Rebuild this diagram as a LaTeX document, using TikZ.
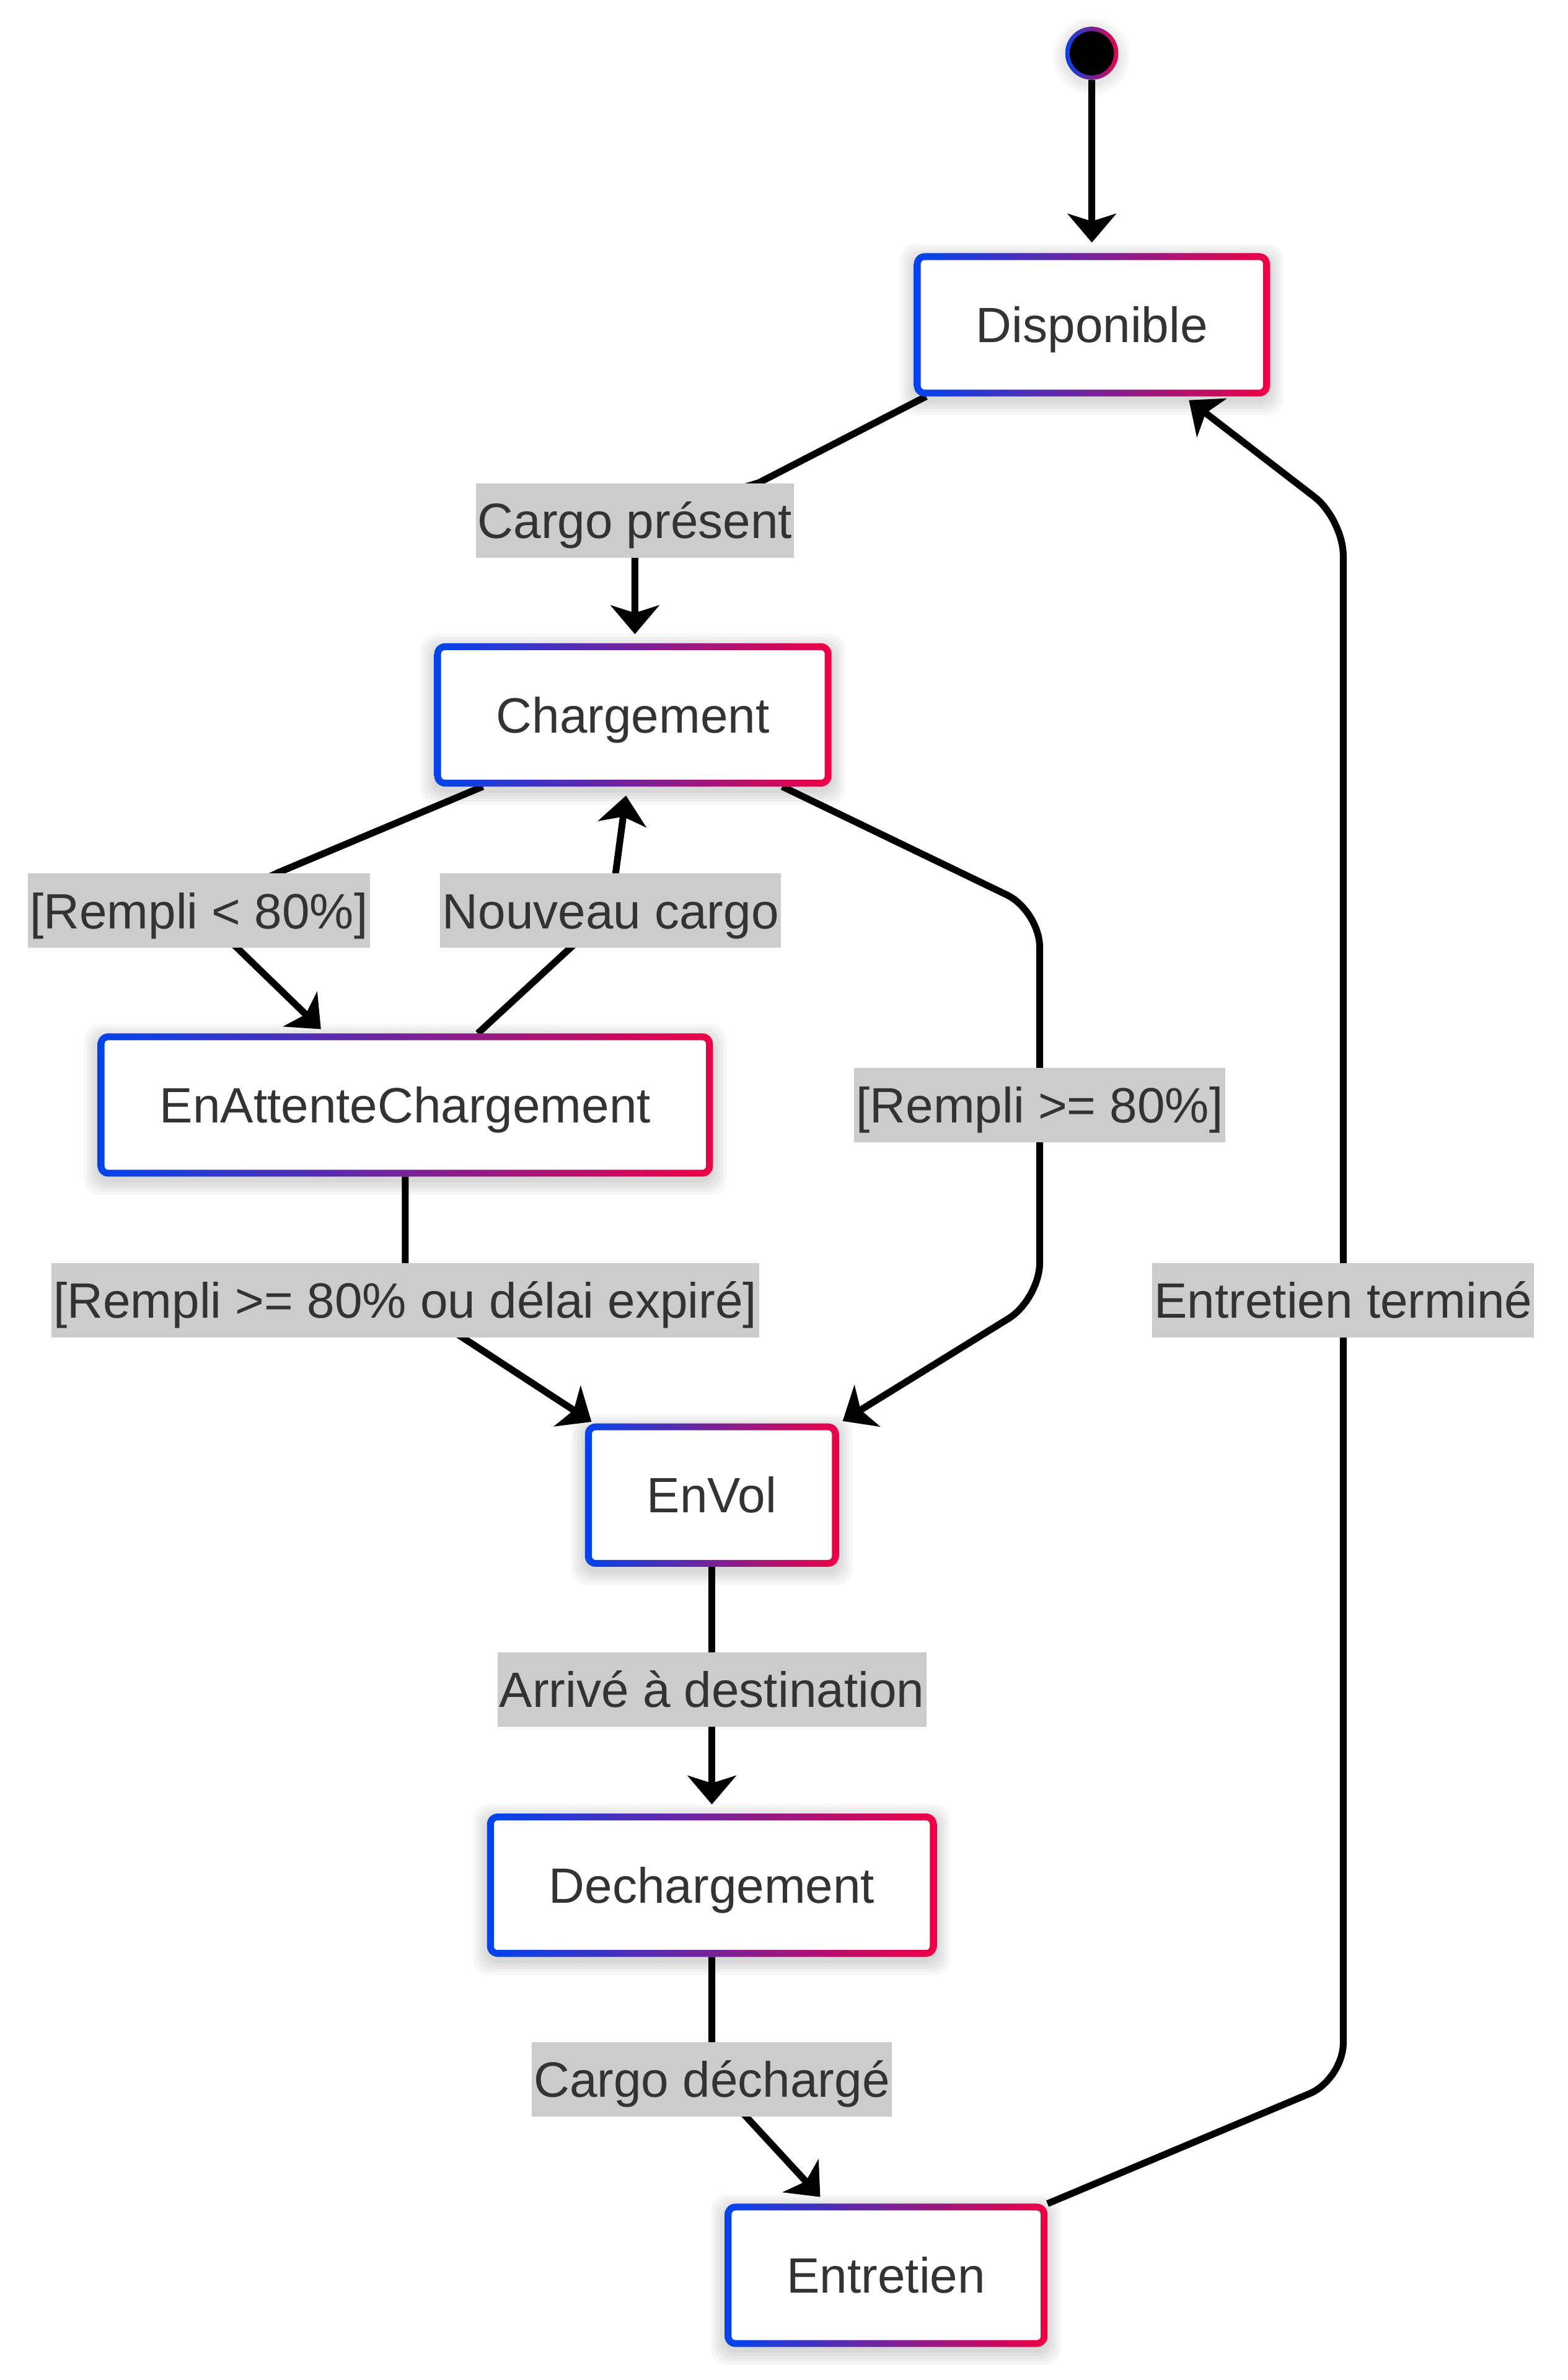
\documentclass[tikz,border=0pt]{standalone}
\usepackage{fontspec}
\setmainfont{Liberation Sans}
\usetikzlibrary{arrows.meta,calc}
\definecolor{gblue}{HTML}{0044EE}
\definecolor{gred}{HTML}{EE0044}
\definecolor{lblgray}{HTML}{CCCCCC}
\definecolor{txtgray}{HTML}{333333}
\pgfdeclarelayer{back}
\pgfdeclarelayer{shadow}
\pgfdeclarelayer{edges}
\pgfsetlayers{back,shadow,edges,main}
\newcommand\gradframe[1]{%
  \begin{pgfonlayer}{shadow}
    \foreach \e in {1,3,5,7,9}
      \fill[black, opacity=0.03, rounded corners=10pt] ($(#1.south west)+(-\e,\e+3)$) rectangle ($(#1.north east)+(\e,-\e+3)$);
  \end{pgfonlayer}
  \shade[left color=gblue, right color=gred, even odd rule]
    [rounded corners=7pt] (#1.south west) rectangle (#1.north east)
    [rounded corners=2.5pt] ($(#1.south west)+(4.5,-4.5)$) rectangle ($(#1.north east)+(-4.5,4.5)$);}
\tikzset{
  statebox/.style={rectangle, rounded corners=7pt, fill=white, text=txtgray,
    minimum height=94pt, inner xsep=40.7pt, inner ysep=0pt,
    text height=23.4pt, text depth=0pt,
    font=\fontsize{32.7}{39}\selectfont},
  elabel/.style={rectangle, fill=lblgray, text=txtgray, inner xsep=1.3pt, inner ysep=0pt,
    minimum height=49pt, text height=23.4pt, text depth=0pt,
    font=\fontsize{32.7}{39}\selectfont},
  conn/.style={line width=4.5pt, draw=black},
  arr/.style={conn, -{Stealth[length=19pt,width=32pt,inset=5pt]}},
}
\begin{document}
\begin{tikzpicture}[x=1pt,y=-1pt]
\useasboundingbox (0,0) rectangle (1033,1568);
\begin{pgfonlayer}{back}
  \fill[white] (0,0) rectangle (1033,1568);
\end{pgfonlayer}

% start state
\node[circle, fill=black, minimum size=34.8pt, inner sep=0pt] (start) at (719.3,35.1) {};
\begin{pgfonlayer}{shadow}
  \foreach \e in {2,4,6,8}
    \fill[black, opacity=0.025] ($(start.center)+(0,2)$) circle ({17.4+\e});
\end{pgfonlayer}
\shade[left color=gblue, right color=gred, even odd rule] (start.center) circle (17.4pt) (start.center) circle (14.6pt);

% states
\node[statebox] (disp) at (719.4,214) {Disponible};
\gradframe{disp}
\node[statebox] (charg) at (417,471) {Chargement};
\gradframe{charg}
\node[statebox] (att) at (267,728) {EnAttenteChargement};
\gradframe{att}
\node[statebox] (envol) at (469,985) {EnVol};
\gradframe{envol}
\node[statebox] (dech) at (469,1242) {Dechargement};
\gradframe{dech}
\node[statebox] (entr) at (583.8,1499) {Entretien};
\gradframe{entr}

% edge labels
\node[elabel] (lbl1) at (418.3,343) {Cargo présent};
\node[elabel] (lbl2) at (131,600) {[Rempli < 80\%]};
\node[elabel] (lbl3) at (402.3,600) {Nouveau cargo};
\node[elabel] (lbl4) at (685,728) {[Rempli >= 80\%]};
\node[elabel] (lbl5) at (267,856.5) {[Rempli >= 80\% ou délai expiré]};
\node[elabel] (lbl6) at (469,1113) {Arrivé à destination};
\node[elabel] (lbl7) at (469,1370) {Cargo déchargé};
\node[elabel] (lbl8) at (885,856.5) {Entretien terminé};

% waypoints
\coordinate (c1) at (500,318);
\coordinate (c2) at (183,575);
\coordinate (c3) at (685,600);
\coordinate (c4) at (685,856);
\coordinate (c5) at (885,1370);
\coordinate (c6) at (885,342);

\begin{pgfonlayer}{edges}
  \draw[arr, shorten >=7pt] (start) -- (disp);
  \draw[arr, shorten >=6pt] ([xshift=8pt]disp.south west) -- (c1) -- (lbl1.center) -- (lbl1.center |- charg.north);
  \draw[arr, shorten >=4pt] ([xshift=32pt]charg.south west) -- (c2) -- (lbl2.center) -- ([xshift=150pt]att.north west);
  \draw[arr, shorten >=6pt] ([xshift=250.5pt]att.north west) -- (lbl3.center) -- ([xshift=127.1pt]charg.south west);
  \draw[arr, rounded corners=24pt, shorten >=3pt] ([xshift=-32.5pt]charg.south east) -- (c3) -- (c4) -- (envol.north east);
  \draw[arr, shorten >=2pt] (att.south) -- (lbl5.center) -- ([xshift=6pt]envol.north west);
  \draw[arr, shorten >=6pt] (envol.south) -- (lbl6.center) -- (dech.north);
  \draw[arr, shorten >=6pt] (dech.south) -- (lbl7.center) -- ([xshift=67pt]entr.north west);
  \draw[arr, rounded corners=24pt, shorten >=4pt] (entr.north east) -- (c5) -- (c6) -- ([xshift=-56.5pt]disp.south east);
\end{pgfonlayer}
\end{tikzpicture}
\end{document}
